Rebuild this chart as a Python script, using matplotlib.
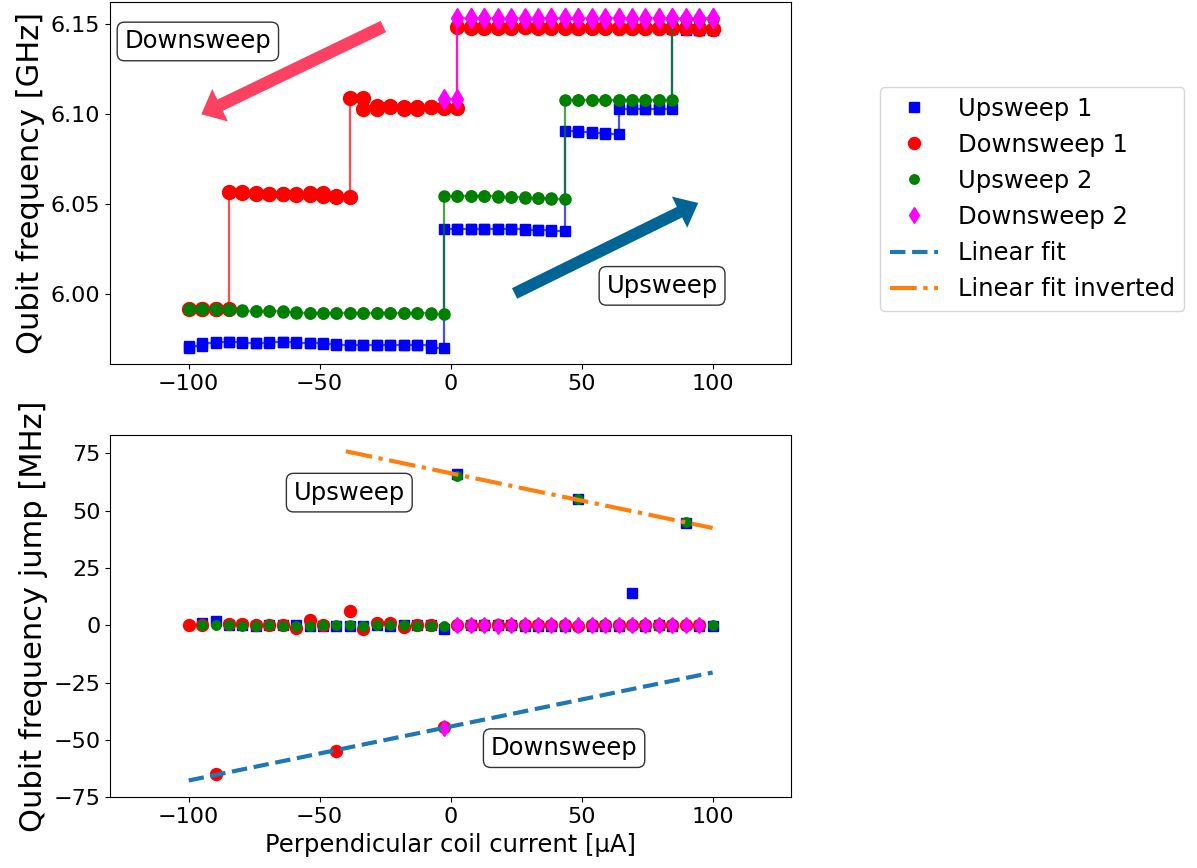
import matplotlib.pyplot as plt
import numpy as np

# Courant de la bobine perpendiculaire (40 points, de -100 a 100 uA)
courant = np.linspace(-100, 100, 40)

# Frequences du qubit [GHz], un point par valeur de courant
upsweep1 = [5.9703, 5.9712, 5.9731, 5.9733, 5.9735, 5.9731, 5.9731, 5.9733, 5.9735, 5.9731,
            5.9728, 5.9724, 5.9720, 5.9718, 5.9718, 5.9716, 5.9718, 5.9718, 5.9720, 5.9703,
            6.0361, 6.0361, 6.0361, 6.0361, 6.0361, 6.0359, 6.0357, 6.0355, 6.0353, 6.0903,
            6.0899, 6.0895, 6.0890, 6.1030, 6.1028, 6.1028, 6.1026, 6.1470, 6.1468, 6.1466]

downsweep1 = [5.9917, 5.9917, 5.9917, 6.0567, 6.0560, 6.0556, 6.0555, 6.0553, 6.0552, 6.0564,
              6.0542, 6.0540, 6.1090, 6.1028, 6.1046, 6.1038, 6.1030, 6.1039, 6.1037, 6.1035,
              6.1480, 6.1479, 6.1480, 6.1479, 6.1480, 6.1480, 6.1479, 6.1480, 6.1479, 6.1478,
              6.1480, 6.1478, 6.1477, 6.1477, 6.1476, 6.1476, 6.1475, 6.1474, 6.1472, 6.1471]

upsweep2 = [5.9917, 5.9917, 5.9917, 5.9917, 5.9912, 5.9909, 5.9909, 5.9905, 5.9900, 5.9898,
            5.9898, 5.9898, 5.9898, 5.9896, 5.9898, 5.9898, 5.9898, 5.9896, 5.9894, 5.9891,
            6.0542, 6.0542, 6.0542, 6.0542, 6.0540, 6.0537, 6.0535, 6.0531, 6.0528, 6.1079,
            6.1079, 6.1079, 6.1079, 6.1079, 6.1079, 6.1077, 6.1076, 6.1524, 6.1524, 6.1524]

# le second balayage descendant s'arrete a -2.6 uA (indices 19 a 39)
debut_down2 = 19
downsweep2 = [6.1083, 6.1530, 6.1531, 6.1530, 6.1528, 6.1530, 6.1529, 6.1530, 6.1530, 6.1531,
              6.1530, 6.1529, 6.1530, 6.1530, 6.1529, 6.1530, 6.1531, 6.1530, 6.1529, 6.1530,
              6.1530]

# intervalles de courant des droites d'ajustement
plage_fit = (-100, 100)
plage_fit_inv = (-40, 100)


def marches(x, y, montee=True):
    # relie les points en escalier : le saut se fait au dernier point avant le saut
    x = np.asarray(x)
    y = np.asarray(y)
    xs, ys = [], []
    if montee:
        ordre = range(len(x))
        voisin = 1
    else:
        ordre = range(len(x) - 1, -1, -1)
        voisin = -1
    for i in ordre:
        xs.append(x[i])
        ys.append(y[i])
        j = i + voisin
        if 0 <= j < len(x):
            xs.append(x[i])
            ys.append(y[j])
    return np.array(xs), np.array(ys)


def sauts(x, y, montee=True):
    # saut de frequence en MHz entre deux points successifs du balayage
    x = np.asarray(x)
    y = np.asarray(y) * 1000
    if montee:
        return x[1:], y[1:] - y[:-1]
    return x[:-1], y[:-1] - y[1:]


series = [
    (courant, upsweep1, True, 'blue', 's', 7.5, 7, "Upsweep 1"),
    (courant, downsweep1, False, 'red', 'o', 10, 8.6, "Downsweep 1"),
    (courant, upsweep2, True, 'green', 'o', 8, 6.8, "Upsweep 2"),
    (courant[debut_down2:], downsweep2, False, 'magenta', 'd', 10, 8, "Downsweep 2"),
]

fig, (ax1, ax2) = plt.subplots(2, 1, figsize=(11.97, 8.68), dpi=100)
fig.subplots_adjust(left=0.092, right=0.661, top=0.998, bottom=0.0815, hspace=0.195)

taille_ticks = 16
taille_texte = 17.5
taille_ylabel = 22

# --- Frequence du qubit en fonction du courant ---
for x, y, montee, c, m, ms, ms2, nom in series:
    xs, ys = marches(x, y, montee)
    ax1.plot(xs, ys, '-', color=c, lw=1.6, alpha=0.7)
    ax1.plot(xs, ys, m, color=c, ms=ms, ls='none')

ax1.set_xlim(-130, 130)
ax1.set_xticks([-100, -50, 0, 50, 100])
ax1.set_yticks([6.00, 6.05, 6.10, 6.15])
ax1.set_yticklabels(["6.00", "6.05", "6.10", "6.15"])
ax1.set_ylabel("Qubit frequency [GHz]", fontsize=taille_ylabel)
ax1.tick_params(labelsize=taille_ticks)

boite = dict(boxstyle='round,pad=0.3', fc='white', ec='0.2', lw=1)
ax1.text(-96.5, 6.1402, "Downsweep", fontsize=taille_texte, ha='center', va='center', bbox=boite)
ax1.text(80.7, 6.0046, "Upsweep", fontsize=taille_texte, ha='center', va='center', bbox=boite)

# fleches du sens de balayage
ax1.annotate('', xy=(-95.2, 6.0998), xytext=(-25.7, 6.1485),
             arrowprops=dict(width=9, headwidth=26, headlength=15, color='#fd4162', lw=0))
ax1.annotate('', xy=(94.5, 6.0506), xytext=(24.4, 6.0004),
             arrowprops=dict(width=8.5, headwidth=25, headlength=15, color='#006494', lw=0))

# --- Sauts de frequence ---
haut_x, haut_y, bas_x, bas_y = [], [], [], []
for x, y, montee, c, m, ms, ms2, nom in series:
    xj, yj = sauts(x, y, montee)
    ax2.plot(xj, yj, m, color=c, ms=ms2, ls='none', label=nom)
    grands = np.abs(yj) > 30
    if montee:
        haut_x += list(xj[grands])
        haut_y += list(yj[grands])
    else:
        bas_x += list(xj[grands])
        bas_y += list(yj[grands])

# ajustements lineaires des grands sauts
p_bas = np.polyfit(bas_x, bas_y, 1)
p_haut = np.polyfit(haut_x, haut_y, 1)
xf = np.array(plage_fit)
xfi = np.array(plage_fit_inv)
ax2.plot(xf, np.polyval(p_bas, xf), '--', color='C0', lw=3, label="Linear fit")
ax2.plot(xfi, np.polyval(p_haut, xfi), '-.', color='C1', lw=3, label="Linear fit inverted")

ax2.set_xlim(-130, 130)
ax2.set_xticks([-100, -50, 0, 50, 100])
ax2.set_yticks([-75, -50, -25, 0, 25, 50, 75])
ax2.set_xlabel("Perpendicular coil current [µA]", fontsize=taille_texte)
ax2.set_ylabel("Qubit frequency jump [MHz]", fontsize=taille_ylabel)
ax2.tick_params(labelsize=taille_ticks)

ax2.text(-38.7, 57.8, "Upsweep", fontsize=taille_texte, ha='center', va='center', bbox=boite)
ax2.text(43.3, -53.6, "Downsweep", fontsize=taille_texte, ha='center', va='center', bbox=boite)

fig.legend(*ax2.get_legend_handles_labels(), loc='upper left',
           bbox_to_anchor=(0.735, 0.9), borderaxespad=0, fontsize=taille_texte)

plt.savefig("out.png", dpi=100)
